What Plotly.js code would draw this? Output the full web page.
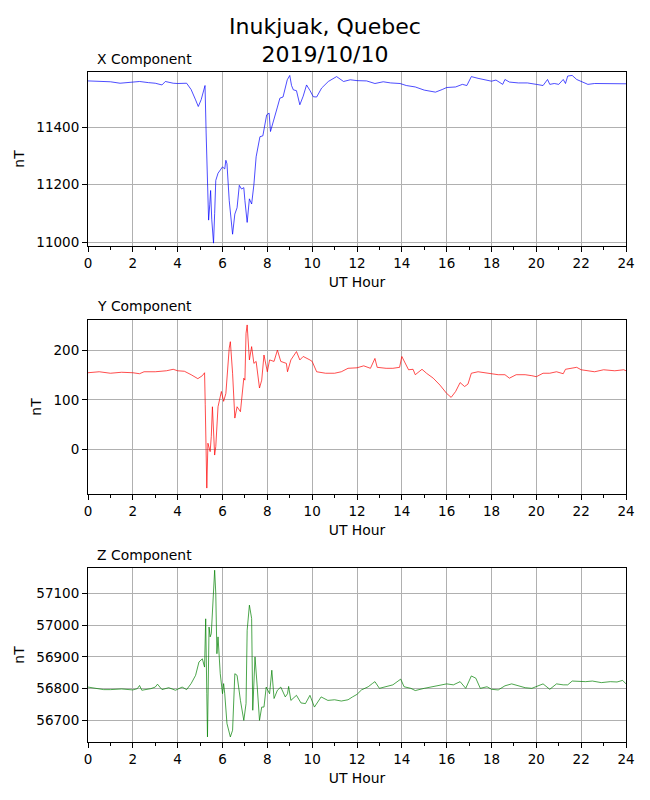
<!DOCTYPE html>
<html>
<head>
<meta charset="utf-8">
<script src="https://cdn.plot.ly/plotly-3.0.1.min.js"></script>
<style>
  html, body { margin: 0; padding: 0; background: #fff; }
  #chart { width: 650px; height: 800px; }
</style>
</head>
<body>
<div id="chart"></div>
<script>
// ---- data ----
const chartTitle = 'Inukjuak, Quebec<br>2019/10/10';
const panelTitles = ['X Component', 'Y Component', 'Z Component'];
const xAxisLabel = 'UT Hour';
const yAxisLabel = 'nT';

const xHours = [0, 0.5, 1, 1.43, 2, 2.3, 2.7, 3.0, 3.3, 3.45, 3.8, 4.0, 4.4, 4.6, 4.8, 4.92, 5.05, 5.15, 5.22, 5.27, 5.33, 5.38, 5.43, 5.47, 5.52, 5.56, 5.6, 5.65, 5.7, 5.8, 5.9, 6.0, 6.1, 6.15, 6.2, 6.3, 6.45, 6.55, 6.65, 6.75, 6.85, 6.95, 7.0, 7.1, 7.2, 7.3, 7.4, 7.5, 7.67, 7.8, 7.97, 8.08, 8.14, 8.3, 8.45, 8.56, 8.7, 8.89, 9.0, 9.08, 9.16, 9.3, 9.45, 9.6, 9.75, 9.9, 10.05, 10.2, 10.42, 10.72, 11.09, 11.4, 11.7, 12.0, 12.43, 12.8, 13.17, 13.5, 13.92, 14.2, 14.6, 15.0, 15.3, 15.5, 15.8, 16.0, 16.4, 16.7, 16.9, 17.1, 17.4, 17.7, 18.0, 18.2, 18.5, 18.6, 18.8, 19.2, 19.6, 20.0, 20.3, 20.5, 20.6, 20.8, 21.0, 21.2, 21.3, 21.4, 21.6, 21.8, 22.0, 22.3, 22.6, 23.0, 23.5, 24.0];
const xValues = [11561, 11560, 11558, 11553, 11557, 11559, 11555, 11553, 11547, 11559, 11553, 11552, 11553, 11531, 11495, 11472, 11496, 11530, 11545, 11380, 11150, 11077, 11130, 11180, 11080, 11028, 10997, 11100, 11215, 11240, 11250, 11262, 11255, 11285, 11273, 11145, 11028, 11098, 11120, 11198, 11185, 11190, 11145, 11069, 11151, 11133, 11200, 11297, 11367, 11370, 11443, 11449, 11385, 11425, 11470, 11501, 11505, 11565, 11580, 11545, 11530, 11527, 11478, 11508, 11547, 11528, 11506, 11505, 11536, 11559, 11576, 11559, 11565, 11562, 11561, 11552, 11558, 11554, 11552, 11545, 11540, 11529, 11525, 11522, 11531, 11538, 11540, 11549, 11545, 11576, 11570, 11564, 11560, 11564, 11549, 11566, 11557, 11554, 11554, 11549, 11545, 11566, 11549, 11552, 11549, 11566, 11552, 11578, 11580, 11566, 11560, 11549, 11552, 11552, 11552, 11551];

const yHours = [0, 0.5, 1, 1.5, 2, 2.3, 2.5, 3, 3.5, 3.8, 4, 4.3, 4.6, 4.9, 5.1, 5.2, 5.23, 5.3, 5.35, 5.45, 5.5, 5.55, 5.65, 5.7, 5.8, 5.95, 6.05, 6.15, 6.3, 6.35, 6.45, 6.55, 6.65, 6.8, 6.95, 7.0, 7.05, 7.1, 7.2, 7.3, 7.4, 7.5, 7.65, 7.75, 7.85, 8.0, 8.1, 8.3, 8.45, 8.6, 8.85, 8.9, 9.05, 9.3, 9.45, 9.6, 9.9, 10, 10.2, 10.6, 11, 11.3, 11.6, 12, 12.3, 12.6, 12.8, 12.9, 13.3, 13.6, 13.9, 14.0, 14.3, 14.5, 14.6, 14.9, 15.1, 15.4, 15.7, 16.0, 16.2, 16.4, 16.6, 16.8, 16.95, 17.1, 17.4, 17.7, 18, 18.3, 18.6, 18.8, 19.1, 19.5, 19.8, 20, 20.3, 20.6, 20.9, 21.2, 21.3, 21.5, 21.8, 22, 22.3, 22.6, 23, 23.5, 23.9, 24];
const yValues = [155, 157, 154, 156, 155, 153, 157, 157, 159, 162, 159, 158, 151, 143, 149, 155, 90, -79, 12, -5, 26, 86, -12, 5, 86, 117, 97, 113, 205, 218, 154, 63, 86, 76, 144, 140, 235, 252, 181, 208, 174, 178, 124, 140, 191, 157, 181, 178, 201, 178, 174, 157, 181, 198, 181, 188, 181, 178, 157, 154, 154, 157, 164, 165, 169, 164, 184, 166, 164, 164, 166, 188, 161, 162, 151, 162, 154, 144, 130, 113, 105, 117, 135, 127, 132, 154, 157, 155, 154, 151, 151, 144, 151, 151, 149, 147, 154, 154, 157, 153, 162, 164, 166, 161, 159, 157, 161, 159, 161, 159];

const zHours = [0, 0.3, 0.7, 1, 1.5, 2, 2.2, 2.3, 2.4, 2.8, 3.0, 3.1, 3.3, 3.6, 3.9, 4.2, 4.4, 4.6, 4.8, 4.95, 5.1, 5.2, 5.25, 5.3, 5.33, 5.4, 5.45, 5.5, 5.6, 5.65, 5.7, 5.75, 5.8, 5.9, 6.0, 6.05, 6.1, 6.2, 6.35, 6.45, 6.55, 6.65, 6.8, 6.95, 7.05, 7.1, 7.2, 7.3, 7.35, 7.45, 7.55, 7.65, 7.75, 7.85, 7.95, 8.1, 8.2, 8.3, 8.45, 8.6, 8.8, 8.9, 8.95, 9.05, 9.3, 9.5, 9.7, 9.9, 10.1, 10.4, 10.7, 11, 11.3, 11.6, 11.8, 12, 12.2, 12.5, 12.7, 12.8, 13, 13.3, 13.6, 13.95, 14.1, 14.4, 14.6, 15, 15.5, 16, 16.3, 16.6, 16.85, 17.1, 17.3, 17.5, 17.8, 18, 18.3, 18.6, 18.9, 19.2, 19.5, 19.8, 20, 20.3, 20.6, 20.9, 21.2, 21.4, 21.6, 21.9, 22.2, 22.5, 22.9, 23.3, 23.6, 23.85, 24];
const zValues = [56805, 56801, 56797, 56797, 56799, 56796, 56800, 56810, 56795, 56800, 56805, 56814, 56797, 56803, 56795, 56805, 56797, 56816, 56842, 56884, 56894, 56868, 57020, 56784, 56648, 56994, 56963, 56973, 57110, 57173, 57100, 56910, 56963, 56847, 56784, 56816, 56784, 56690, 56648, 56669, 56847, 56842, 56763, 56700, 56753, 56984, 57063, 57021, 56732, 56900, 56805, 56700, 56742, 56742, 56805, 56784, 56858, 56769, 56795, 56805, 56774, 56784, 56807, 56763, 56779, 56755, 56753, 56779, 56742, 56774, 56763, 56765, 56761, 56765, 56774, 56782, 56796, 56806, 56817, 56822, 56801, 56806, 56812, 56830, 56806, 56801, 56794, 56801, 56809, 56815, 56812, 56822, 56801, 56840, 56833, 56801, 56806, 56798, 56796, 56809, 56815, 56809, 56803, 56801, 56806, 56815, 56798, 56815, 56812, 56812, 56824, 56822, 56822, 56824, 56819, 56822, 56821, 56826, 56815];

const xTickVals = [0, 2, 4, 6, 8, 10, 12, 14, 16, 18, 20, 22, 24];
const yTicksX = [11000, 11200, 11400];
const yTicksY = [0, 100, 200];
const yTicksZ = [56700, 56800, 56900, 57000, 57100];

// ---- drawing ----
const FONT = 'DejaVu Sans, sans-serif';
const traces = [
  {x: xHours, y: xValues, xaxis: 'x', yaxis: 'y', type: 'scatter', mode: 'lines',
   line: {color: '#0000ff', width: 0.7}, hoverinfo: 'x+y'},
  {x: yHours, y: yValues, xaxis: 'x2', yaxis: 'y2', type: 'scatter', mode: 'lines',
   line: {color: '#ff0000', width: 0.7}, hoverinfo: 'x+y'},
  {x: zHours, y: zValues, xaxis: 'x3', yaxis: 'y3', type: 'scatter', mode: 'lines',
   line: {color: '#008000', width: 0.7}, hoverinfo: 'x+y'}
];

function xAx(anchor) {
  return {
    anchor: anchor, domain: [0, 1], range: [0, 24],
    tickmode: 'array', tickvals: xTickVals, ticktext: xTickVals.map(String),
    ticks: 'outside', ticklen: 5, tickwidth: 1, tickcolor: '#000',
    minor: {dtick: 1, tick0: 0, ticks: 'outside', ticklen: 3, tickwidth: 1, tickcolor: '#000', showgrid: false},
    showgrid: true, gridcolor: '#b0b0b0', gridwidth: 1,
    showline: true, mirror: true, linecolor: '#000', linewidth: 1,
    zeroline: false,
    tickfont: {family: FONT, size: 13.5, color: '#000'},
    title: {text: xAxisLabel, font: {family: FONT, size: 13.9, color: '#000'}, standoff: 7}
  };
}
function yAx(anchor, domain, range, ticks) {
  return {
    anchor: anchor, domain: domain, range: range,
    tickmode: 'array', tickvals: ticks, ticktext: ticks.map(String),
    ticks: 'outside', ticklen: 5, tickwidth: 1, tickcolor: '#000',
    showgrid: true, gridcolor: '#b0b0b0', gridwidth: 1,
    showline: true, mirror: true, linecolor: '#000', linewidth: 1,
    zeroline: false,
    tickfont: {family: FONT, size: 13.5, color: '#000'},
    title: {text: yAxisLabel, font: {family: FONT, size: 13.9, color: '#000'}, standoff: 8}
  };
}

const H = 800;
const dom = (top, bottom) => [1 - bottom / H, 1 - top / H];

const panelTops = [72, 320, 568];
const annotations = panelTitles.map((t, i) => ({
  text: t, xref: 'paper', yref: 'paper',
  x: 7 / 538, y: 1 - (panelTops[i] - 13.5) / H,
  xanchor: 'left', yanchor: 'middle', showarrow: false,
  font: {family: FONT, size: 13.9, color: '#000'}
}));

const layout = {
  width: 650, height: 800,
  margin: {l: 88, r: 24, t: 0, b: 0},
  paper_bgcolor: '#fff', plot_bgcolor: '#fff',
  showlegend: false,
  font: {family: FONT, color: '#000'},
  title: {text: chartTitle, x: 0.5, xref: 'container', xanchor: 'center',
          y: 1 - 33.5 / H, yref: 'container', yanchor: 'top',
          font: {family: FONT, size: 22, color: '#000'}},
  xaxis: xAx('y'),
  yaxis: yAx('x', dom(72, 246), [10987, 11592], yTicksX),
  xaxis2: xAx('y2'),
  yaxis2: yAx('x2', dom(320, 494), [-91, 262], yTicksY),
  xaxis3: xAx('y3'),
  yaxis3: yAx('x3', dom(568, 742), [56632, 57180], yTicksZ),
  annotations: annotations
};

Plotly.newPlot('chart', traces, layout, {displayModeBar: false, staticPlot: true});
</script>
</body>
</html>
